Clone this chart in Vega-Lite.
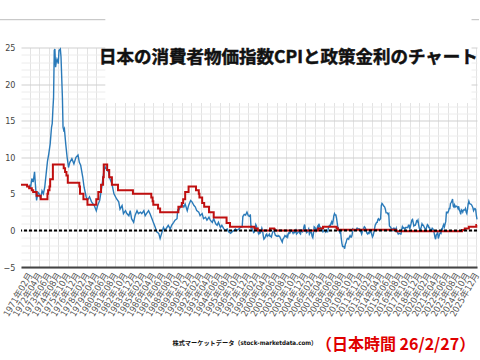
{
 "$schema": "https://vega.github.io/schema/vega-lite/v6.json",
 "width": 456,
 "height": 219.5,
 "autosize": {"type": "none"},
 "padding": {"left": 21, "top": 47.5, "right": 3, "bottom": 93},
 "background": "white",
 "config": {"view": {"stroke": null}},
 "datasets": {
  "cpi": [
   {"month":"1971-02","value":6.3},{"month":"1971-03","value":5.7},{"month":"1971-05","value":7.1},{"month":"1971-07","value":6.6},{"month":"1971-09","value":8.0},{"month":"1971-10","value":6.6},{"month":"1971-12","value":4.1},
   {"month":"1972-02","value":5.2},{"month":"1972-04","value":5.0},{"month":"1972-06","value":4.3},{"month":"1972-08","value":5.4},{"month":"1972-10","value":5.0},{"month":"1972-12","value":5.9},
   {"month":"1973-02","value":7.7},{"month":"1973-04","value":9.4},{"month":"1973-06","value":10.5},{"month":"1973-08","value":11.8},{"month":"1973-10","value":14.1},{"month":"1973-11","value":14.6},{"month":"1973-12","value":16.5},
   {"month":"1974-01","value":18.2},{"month":"1974-02","value":24.6},{"month":"1974-03","value":24.8},{"month":"1974-04","value":22.3},{"month":"1974-05","value":23.0},{"month":"1974-06","value":23.4},{"month":"1974-08","value":22.8},{"month":"1974-09","value":24.6},{"month":"1974-11","value":24.8},{"month":"1974-12","value":23.7},
   {"month":"1975-02","value":18.2},{"month":"1975-03","value":14.1},{"month":"1975-04","value":13.7},{"month":"1975-05","value":13.9},{"month":"1975-07","value":11.8},{"month":"1975-09","value":10.0},{"month":"1975-11","value":8.6},
   {"month":"1976-01","value":9.3},{"month":"1976-04","value":9.8},{"month":"1976-07","value":9.1},{"month":"1976-10","value":10.0},
   {"month":"1977-01","value":10.3},{"month":"1977-03","value":9.3},{"month":"1977-05","value":8.9},{"month":"1977-08","value":7.3},{"month":"1977-10","value":5.9},
   {"month":"1978-01","value":4.6},{"month":"1978-03","value":4.1},{"month":"1978-06","value":4.6},{"month":"1978-09","value":3.9},
   {"month":"1979-01","value":3.4},{"month":"1979-04","value":2.7},{"month":"1979-06","value":3.4},{"month":"1979-09","value":4.1},{"month":"1979-12","value":5.9},
   {"month":"1980-03","value":8.0},{"month":"1980-05","value":8.7},{"month":"1980-08","value":8.2},{"month":"1980-10","value":8.0},{"month":"1980-12","value":7.1},
   {"month":"1981-03","value":6.4},{"month":"1981-06","value":5.0},{"month":"1981-10","value":4.3},
   {"month":"1982-01","value":3.9},{"month":"1982-03","value":2.9},{"month":"1982-06","value":3.4},{"month":"1982-08","value":2.3},{"month":"1982-11","value":2.7},
   {"month":"1983-01","value":2.3},{"month":"1983-04","value":2.0},{"month":"1983-06","value":2.7},{"month":"1983-08","value":1.6},{"month":"1983-11","value":1.1},
   {"month":"1984-01","value":2.0},{"month":"1984-04","value":2.7},{"month":"1984-06","value":2.3},{"month":"1984-09","value":2.5},{"month":"1984-11","value":2.3},
   {"month":"1985-02","value":2.7},{"month":"1985-04","value":2.0},{"month":"1985-06","value":2.3},{"month":"1985-09","value":2.7},{"month":"1985-11","value":2.3},
   {"month":"1986-02","value":1.6},{"month":"1986-04","value":1.1},{"month":"1986-07","value":0.4},{"month":"1986-09","value":-0.2},{"month":"1986-12","value":-0.4},
   {"month":"1987-02","value":-1.1},{"month":"1987-05","value":-0.2},{"month":"1987-07","value":0.4},{"month":"1987-09","value":0.0},{"month":"1987-12","value":0.4},
   {"month":"1988-02","value":0.7},{"month":"1988-05","value":0.2},{"month":"1988-07","value":0.7},{"month":"1988-10","value":1.1},{"month":"1988-12","value":1.4},
   {"month":"1989-03","value":1.6},{"month":"1989-04","value":2.9},{"month":"1989-05","value":2.7},{"month":"1989-08","value":3.2},{"month":"1989-10","value":3.6},
   {"month":"1990-01","value":3.2},{"month":"1990-03","value":3.6},{"month":"1990-06","value":2.7},{"month":"1990-08","value":3.4},{"month":"1990-11","value":4.1},
   {"month":"1991-01","value":3.9},{"month":"1991-04","value":3.4},{"month":"1991-06","value":3.2},{"month":"1991-08","value":2.7},{"month":"1991-11","value":2.5},
   {"month":"1992-01","value":2.0},{"month":"1992-04","value":2.3},{"month":"1992-06","value":1.6},{"month":"1992-09","value":1.8},{"month":"1992-11","value":1.4},
   {"month":"1993-02","value":1.8},{"month":"1993-04","value":1.4},{"month":"1993-07","value":1.1},{"month":"1993-09","value":1.6},{"month":"1993-12","value":0.9},
   {"month":"1994-02","value":0.7},{"month":"1994-04","value":1.1},{"month":"1994-07","value":0.4},{"month":"1994-09","value":0.7},{"month":"1994-12","value":0.2},
   {"month":"1995-02","value":0.0},{"month":"1995-05","value":0.2},{"month":"1995-07","value":-0.2},{"month":"1995-10","value":-0.4},{"month":"1995-12","value":-0.2},
   {"month":"1996-03","value":0.0},{"month":"1996-05","value":0.2},{"month":"1996-07","value":0.0},{"month":"1996-10","value":0.2},{"month":"1996-12","value":0.4},
   {"month":"1997-03","value":0.5},{"month":"1997-04","value":1.9},{"month":"1997-06","value":2.2},{"month":"1997-08","value":2.1},{"month":"1997-10","value":2.5},{"month":"1997-12","value":2.0},
   {"month":"1998-02","value":1.9},{"month":"1998-03","value":2.2},{"month":"1998-04","value":0.4},{"month":"1998-05","value":0.5},{"month":"1998-06","value":0.1},{"month":"1998-07","value":-0.1},{"month":"1998-08","value":-0.3},{"month":"1998-09","value":-0.2},{"month":"1998-10","value":0.2},{"month":"1998-11","value":0.8},{"month":"1998-12","value":0.6},
   {"month":"1999-01","value":0.2},{"month":"1999-02","value":-0.1},{"month":"1999-03","value":-0.4},{"month":"1999-04","value":-0.1},{"month":"1999-05","value":-0.4},{"month":"1999-06","value":-0.3},{"month":"1999-07","value":-0.1},{"month":"1999-08","value":0.3},{"month":"1999-09","value":0.0},{"month":"1999-10","value":-0.7},{"month":"1999-11","value":-1.2},{"month":"1999-12","value":-1.1},
   {"month":"2000-01","value":-0.9},{"month":"2000-02","value":-0.6},{"month":"2000-03","value":-0.5},{"month":"2000-04","value":-0.8},{"month":"2000-05","value":-0.7},{"month":"2000-06","value":-0.7},{"month":"2000-07","value":-0.5},{"month":"2000-08","value":-0.8},{"month":"2000-09","value":-0.8},{"month":"2000-10","value":-0.9},{"month":"2000-11","value":-0.5},{"month":"2000-12","value":-0.2},
   {"month":"2001-01","value":-0.1},{"month":"2001-02","value":-0.1},{"month":"2001-03","value":-0.4},{"month":"2001-04","value":-0.7},{"month":"2001-05","value":-0.7},{"month":"2001-06","value":-0.8},{"month":"2001-07","value":-0.8},{"month":"2001-08","value":-0.7},{"month":"2001-09","value":-0.8},{"month":"2001-10","value":-0.8},{"month":"2001-11","value":-1.0},{"month":"2001-12","value":-1.2},
   {"month":"2002-01","value":-1.4},{"month":"2002-02","value":-1.6},{"month":"2002-03","value":-1.2},{"month":"2002-04","value":-1.1},{"month":"2002-05","value":-0.9},{"month":"2002-06","value":-0.7},{"month":"2002-07","value":-0.8},{"month":"2002-08","value":-0.9},{"month":"2002-09","value":-0.7},{"month":"2002-10","value":-0.9},{"month":"2002-11","value":-0.4},{"month":"2002-12","value":-0.3},
   {"month":"2003-01","value":-0.4},{"month":"2003-02","value":-0.2},{"month":"2003-03","value":-0.1},{"month":"2003-04","value":-0.1},{"month":"2003-05","value":-0.2},{"month":"2003-06","value":-0.4},{"month":"2003-07","value":-0.2},{"month":"2003-08","value":-0.3},{"month":"2003-09","value":-0.2},{"month":"2003-10","value":0.0},{"month":"2003-11","value":-0.5},{"month":"2003-12","value":-0.4},
   {"month":"2004-01","value":-0.3},{"month":"2004-02","value":0.0},{"month":"2004-03","value":-0.1},{"month":"2004-04","value":-0.4},{"month":"2004-05","value":-0.5},{"month":"2004-06","value":0.0},{"month":"2004-07","value":-0.1},{"month":"2004-08","value":-0.2},{"month":"2004-09","value":0.0},{"month":"2004-10","value":0.5},{"month":"2004-11","value":0.8},{"month":"2004-12","value":0.2},
   {"month":"2005-01","value":-0.1},{"month":"2005-02","value":-0.3},{"month":"2005-03","value":-0.2},{"month":"2005-04","value":0.0},{"month":"2005-05","value":0.2},{"month":"2005-06","value":-0.5},{"month":"2005-07","value":-0.3},{"month":"2005-08","value":-0.3},{"month":"2005-09","value":-0.3},{"month":"2005-10","value":-0.8},{"month":"2005-11","value":-1.0},{"month":"2005-12","value":-0.4},
   {"month":"2006-01","value":0.5},{"month":"2006-02","value":0.4},{"month":"2006-03","value":0.3},{"month":"2006-04","value":-0.1},{"month":"2006-05","value":0.1},{"month":"2006-06","value":0.5},{"month":"2006-07","value":0.3},{"month":"2006-08","value":0.9},{"month":"2006-09","value":0.6},{"month":"2006-10","value":0.4},{"month":"2006-11","value":0.3},{"month":"2006-12","value":0.3},
   {"month":"2007-01","value":0.0},{"month":"2007-02","value":-0.2},{"month":"2007-03","value":-0.1},{"month":"2007-04","value":0.0},{"month":"2007-05","value":0.0},{"month":"2007-06","value":-0.2},{"month":"2007-07","value":0.0},{"month":"2007-08","value":-0.2},{"month":"2007-09","value":-0.2},{"month":"2007-10","value":0.3},{"month":"2007-11","value":0.6},{"month":"2007-12","value":0.7},
   {"month":"2008-01","value":0.7},{"month":"2008-02","value":1.0},{"month":"2008-03","value":1.2},{"month":"2008-04","value":0.8},{"month":"2008-05","value":1.3},{"month":"2008-06","value":2.0},{"month":"2008-07","value":2.3},{"month":"2008-08","value":2.1},{"month":"2008-09","value":2.1},{"month":"2008-10","value":1.7},{"month":"2008-11","value":1.0},{"month":"2008-12","value":0.4},
   {"month":"2009-01","value":0.0},{"month":"2009-02","value":-0.1},{"month":"2009-03","value":-0.3},{"month":"2009-04","value":-0.1},{"month":"2009-05","value":-1.1},{"month":"2009-06","value":-1.8},{"month":"2009-07","value":-2.2},{"month":"2009-08","value":-2.2},{"month":"2009-09","value":-2.2},{"month":"2009-10","value":-2.5},{"month":"2009-11","value":-1.9},{"month":"2009-12","value":-1.7},
   {"month":"2010-01","value":-1.3},{"month":"2010-02","value":-1.1},{"month":"2010-03","value":-1.1},{"month":"2010-04","value":-1.2},{"month":"2010-05","value":-0.9},{"month":"2010-06","value":-0.7},{"month":"2010-07","value":-0.9},{"month":"2010-08","value":-0.9},{"month":"2010-09","value":-0.6},{"month":"2010-10","value":0.2},{"month":"2010-11","value":0.1},{"month":"2010-12","value":0.0},
   {"month":"2011-01","value":0.0},{"month":"2011-02","value":0.0},{"month":"2011-03","value":0.0},{"month":"2011-04","value":0.3},{"month":"2011-05","value":0.3},{"month":"2011-06","value":0.2},{"month":"2011-07","value":0.2},{"month":"2011-08","value":0.2},{"month":"2011-09","value":0.0},{"month":"2011-10","value":-0.2},{"month":"2011-11","value":-0.5},{"month":"2011-12","value":-0.2},
   {"month":"2012-01","value":0.1},{"month":"2012-02","value":0.3},{"month":"2012-03","value":0.5},{"month":"2012-04","value":0.4},{"month":"2012-05","value":0.2},{"month":"2012-06","value":-0.2},{"month":"2012-07","value":-0.4},{"month":"2012-08","value":-0.5},{"month":"2012-09","value":-0.3},{"month":"2012-10","value":-0.4},{"month":"2012-11","value":-0.2},{"month":"2012-12","value":-0.1},
   {"month":"2013-01","value":-0.3},{"month":"2013-02","value":-0.6},{"month":"2013-03","value":-0.9},{"month":"2013-04","value":-0.7},{"month":"2013-05","value":-0.3},{"month":"2013-06","value":0.2},{"month":"2013-07","value":0.7},{"month":"2013-08","value":0.9},{"month":"2013-09","value":1.1},{"month":"2013-10","value":1.1},{"month":"2013-11","value":1.5},{"month":"2013-12","value":1.6},
   {"month":"2014-01","value":1.4},{"month":"2014-02","value":1.5},{"month":"2014-03","value":1.6},{"month":"2014-04","value":3.4},{"month":"2014-05","value":3.7},{"month":"2014-06","value":3.6},{"month":"2014-07","value":3.4},{"month":"2014-08","value":3.3},{"month":"2014-09","value":3.2},{"month":"2014-10","value":2.9},{"month":"2014-11","value":2.4},{"month":"2014-12","value":2.4},
   {"month":"2015-01","value":2.4},{"month":"2015-02","value":2.2},{"month":"2015-03","value":2.3},{"month":"2015-04","value":0.6},{"month":"2015-05","value":0.5},{"month":"2015-06","value":0.4},{"month":"2015-07","value":0.2},{"month":"2015-08","value":0.2},{"month":"2015-09","value":0.0},{"month":"2015-10","value":0.3},{"month":"2015-11","value":0.3},{"month":"2015-12","value":0.2},
   {"month":"2016-01","value":0.0},{"month":"2016-02","value":0.3},{"month":"2016-03","value":-0.1},{"month":"2016-04","value":-0.3},{"month":"2016-05","value":-0.5},{"month":"2016-06","value":-0.4},{"month":"2016-07","value":-0.4},{"month":"2016-08","value":-0.5},{"month":"2016-09","value":-0.5},{"month":"2016-10","value":0.1},{"month":"2016-11","value":0.5},{"month":"2016-12","value":0.3},
   {"month":"2017-01","value":0.4},{"month":"2017-02","value":0.3},{"month":"2017-03","value":0.2},{"month":"2017-04","value":0.4},{"month":"2017-05","value":0.4},{"month":"2017-06","value":0.4},{"month":"2017-07","value":0.4},{"month":"2017-08","value":0.7},{"month":"2017-09","value":0.7},{"month":"2017-10","value":0.2},{"month":"2017-11","value":0.6},{"month":"2017-12","value":1.0},
   {"month":"2018-01","value":1.4},{"month":"2018-02","value":1.5},{"month":"2018-03","value":1.1},{"month":"2018-04","value":0.6},{"month":"2018-05","value":0.7},{"month":"2018-06","value":0.7},{"month":"2018-07","value":0.9},{"month":"2018-08","value":1.3},{"month":"2018-09","value":1.2},{"month":"2018-10","value":1.4},{"month":"2018-11","value":0.8},{"month":"2018-12","value":0.3},
   {"month":"2019-01","value":0.2},{"month":"2019-02","value":0.2},{"month":"2019-03","value":0.5},{"month":"2019-04","value":0.9},{"month":"2019-05","value":0.7},{"month":"2019-06","value":0.7},{"month":"2019-07","value":0.5},{"month":"2019-08","value":0.3},{"month":"2019-09","value":0.2},{"month":"2019-10","value":0.2},{"month":"2019-11","value":0.5},{"month":"2019-12","value":0.8},
   {"month":"2020-01","value":0.7},{"month":"2020-02","value":0.4},{"month":"2020-03","value":0.4},{"month":"2020-04","value":0.1},{"month":"2020-05","value":0.1},{"month":"2020-06","value":0.1},{"month":"2020-07","value":0.3},{"month":"2020-08","value":0.2},{"month":"2020-09","value":0.0},{"month":"2020-10","value":-0.4},{"month":"2020-11","value":-0.9},{"month":"2020-12","value":-1.2},
   {"month":"2021-01","value":-0.6},{"month":"2021-02","value":-0.5},{"month":"2021-03","value":-0.2},{"month":"2021-04","value":-1.1},{"month":"2021-05","value":-0.8},{"month":"2021-06","value":-0.5},{"month":"2021-07","value":-0.3},{"month":"2021-08","value":-0.4},{"month":"2021-09","value":0.2},{"month":"2021-10","value":0.1},{"month":"2021-11","value":0.6},{"month":"2021-12","value":0.8},
   {"month":"2022-01","value":0.5},{"month":"2022-02","value":0.9},{"month":"2022-03","value":1.2},{"month":"2022-04","value":2.5},{"month":"2022-05","value":2.5},{"month":"2022-06","value":2.4},{"month":"2022-07","value":2.6},{"month":"2022-08","value":3.0},{"month":"2022-09","value":3.0},{"month":"2022-10","value":3.7},{"month":"2022-11","value":3.8},{"month":"2022-12","value":4.0},
   {"month":"2023-01","value":4.3},{"month":"2023-02","value":3.3},{"month":"2023-03","value":3.2},{"month":"2023-04","value":3.5},{"month":"2023-05","value":3.2},{"month":"2023-06","value":3.3},{"month":"2023-07","value":3.3},{"month":"2023-08","value":3.2},{"month":"2023-09","value":3.0},{"month":"2023-10","value":3.3},{"month":"2023-11","value":2.8},{"month":"2023-12","value":2.6},
   {"month":"2024-01","value":2.2},{"month":"2024-02","value":2.8},{"month":"2024-03","value":2.7},{"month":"2024-04","value":2.5},{"month":"2024-05","value":2.8},{"month":"2024-06","value":2.8},{"month":"2024-07","value":2.8},{"month":"2024-08","value":3.0},{"month":"2024-09","value":2.5},{"month":"2024-10","value":2.3},{"month":"2024-11","value":2.9},{"month":"2024-12","value":3.6},
   {"month":"2025-01","value":4.0},{"month":"2025-02","value":3.7},{"month":"2025-03","value":3.6},{"month":"2025-04","value":3.6},{"month":"2025-05","value":3.5},{"month":"2025-06","value":3.3},{"month":"2025-07","value":3.1},{"month":"2025-08","value":2.7},{"month":"2025-09","value":2.9},{"month":"2025-10","value":3.0},{"month":"2025-11","value":2.9},{"month":"2025-12","value":2.1},
   {"month":"2026-01","value":1.5}
  ],
  "rate": [
   {"month":"1970-01","value":6.25},{"month":"1970-10","value":6.0},{"month":"1971-01","value":5.75},{"month":"1971-05","value":5.5},{"month":"1971-07","value":5.25},{"month":"1971-12","value":4.75},{"month":"1972-06","value":4.25},
   {"month":"1973-04","value":5.0},{"month":"1973-05","value":5.5},{"month":"1973-07","value":6.0},{"month":"1973-08","value":7.0},{"month":"1973-12","value":9.0},
   {"month":"1975-04","value":8.5},{"month":"1975-06","value":8.0},{"month":"1975-08","value":7.5},{"month":"1975-10","value":6.5},
   {"month":"1977-03","value":6.0},{"month":"1977-04","value":5.0},{"month":"1977-09","value":4.25},{"month":"1978-03","value":3.5},
   {"month":"1979-04","value":4.25},{"month":"1979-07","value":5.25},{"month":"1979-11","value":6.25},{"month":"1980-02","value":7.25},{"month":"1980-03","value":9.0},
   {"month":"1980-08","value":8.25},{"month":"1980-11","value":7.25},{"month":"1981-03","value":6.25},{"month":"1981-12","value":5.5},{"month":"1983-10","value":5.0},
   {"month":"1986-01","value":4.5},{"month":"1986-03","value":4.0},{"month":"1986-04","value":3.5},{"month":"1986-11","value":3.0},{"month":"1987-02","value":2.5},
   {"month":"1989-05","value":3.25},{"month":"1989-10","value":3.75},{"month":"1989-12","value":4.25},{"month":"1990-03","value":5.25},{"month":"1990-08","value":6.0},
   {"month":"1991-07","value":5.5},{"month":"1991-11","value":5.0},{"month":"1991-12","value":4.5},{"month":"1992-04","value":3.75},{"month":"1992-07","value":3.25},
   {"month":"1993-02","value":2.5},{"month":"1993-09","value":1.75},{"month":"1995-04","value":1.0},{"month":"1995-09","value":0.5},
   {"month":"1998-09","value":0.25},{"month":"1999-02","value":0.0},{"month":"2000-08","value":0.25},{"month":"2001-02","value":0.15},{"month":"2001-03","value":0.0},
   {"month":"2006-07","value":0.25},{"month":"2007-02","value":0.5},{"month":"2008-10","value":0.3},{"month":"2008-12","value":0.1},
   {"month":"2016-02","value":-0.1},{"month":"2024-03","value":0.05},{"month":"2024-07","value":0.25},{"month":"2025-01","value":0.5},{"month":"2025-12","value":0.75},{"month":"2026-01","value":0.75}
  ]
 },
 "layer": [
  {
   "data": {"name": "cpi"},
   "mark": {"type": "line", "color": "#2a7ab9", "strokeWidth": 1.4},
   "encoding": {
    "x": {
     "field": "month", "type": "temporal", "title": null,
     "scale": {"type": "utc", "domain": [{"year": 1970, "month": 1, "date": 1, "utc": true}, {"year": 2026, "month": 1, "date": 1, "utc": true}]},
     "axis": {
      "values": [
       {"year":1971,"month":2,"utc":true},{"year":1972,"month":4,"utc":true},{"year":1973,"month":6,"utc":true},{"year":1974,"month":8,"utc":true},{"year":1975,"month":10,"utc":true},{"year":1976,"month":12,"utc":true},
       {"year":1978,"month":2,"utc":true},{"year":1979,"month":4,"utc":true},{"year":1980,"month":6,"utc":true},{"year":1981,"month":8,"utc":true},{"year":1982,"month":10,"utc":true},{"year":1983,"month":12,"utc":true},
       {"year":1985,"month":2,"utc":true},{"year":1986,"month":4,"utc":true},{"year":1987,"month":6,"utc":true},{"year":1988,"month":8,"utc":true},{"year":1989,"month":10,"utc":true},{"year":1990,"month":12,"utc":true},
       {"year":1992,"month":2,"utc":true},{"year":1993,"month":4,"utc":true},{"year":1994,"month":6,"utc":true},{"year":1995,"month":8,"utc":true},{"year":1996,"month":10,"utc":true},{"year":1997,"month":12,"utc":true},
       {"year":1999,"month":2,"utc":true},{"year":2000,"month":4,"utc":true},{"year":2001,"month":6,"utc":true},{"year":2002,"month":8,"utc":true},{"year":2003,"month":10,"utc":true},{"year":2004,"month":12,"utc":true},
       {"year":2006,"month":2,"utc":true},{"year":2007,"month":4,"utc":true},{"year":2008,"month":6,"utc":true},{"year":2009,"month":8,"utc":true},{"year":2010,"month":10,"utc":true},{"year":2011,"month":12,"utc":true},
       {"year":2013,"month":2,"utc":true},{"year":2014,"month":4,"utc":true},{"year":2015,"month":6,"utc":true},{"year":2016,"month":8,"utc":true},{"year":2017,"month":10,"utc":true},{"year":2018,"month":12,"utc":true},
       {"year":2020,"month":2,"utc":true},{"year":2021,"month":4,"utc":true},{"year":2022,"month":6,"utc":true},{"year":2023,"month":8,"utc":true},{"year":2024,"month":10,"utc":true},{"year":2025,"month":12,"utc":true}
      ],
      "tickCount": 200,
      "labelExpr": "utcFormat(datum.value, '%Y年%m月')",
      "labelAngle": -60, "labelFont": "Liberation Sans Narrow, DejaVu Sans Condensed, Liberation Sans, Noto Sans CJK JP, sans-serif", "labelFontSize": 9, "labelColor": "#555",
      "labelPadding": 6, "labelOverlap": false, "labelFlush": false, "labelBound": false,
      "ticks": false, "grid": true, "gridColor": "#e3e3e3", "gridWidth": 1,
      "domain": true, "domainColor": "#444", "domainWidth": 2
     }
    },
    "y": {
     "field": "value", "type": "quantitative", "title": null,
     "scale": {"domain": [-5, 25], "nice": false, "zero": false},
     "axis": {
      "values": [-5,-4,-3,-2,-1,0,1,2,3,4,5,6,7,8,9,10,11,12,13,14,15,16,17,18,19,20,21,22,23,24,25],
      "tickCount": 200,
      "labelExpr": "datum.value % 5 === 0 ? format(datum.value, 'd') : ''",
      "gridColor": {"condition": {"test": "datum.value % 5 === 0", "value": "#cfcfcf"}, "value": "#ececec"},
      "domain": false, "ticks": false, "labelPadding": 6, "labelOverlap": false,
      "labelFont": "Liberation Sans Narrow, DejaVu Sans Condensed, Liberation Sans, sans-serif", "labelFontSize": 9, "labelColor": "#444"
     }
    }
   }
  },
  {
   "data": {"name": "rate"},
   "mark": {"type": "line", "color": "#c01010", "strokeWidth": 2, "interpolate": "step-after"},
   "encoding": {
    "x": {"field": "month", "type": "temporal", "title": null},
    "y": {"field": "value", "type": "quantitative", "title": null}
   }
  },
  {
   "data": {"values": [{}]},
   "mark": {"type": "rule", "color": "#bdbdbd", "strokeWidth": 1},
   "encoding": {
    "x": {"datum": {"year": 1966, "month": 12, "utc": true}, "type": "temporal"},
    "x2": {"datum": {"year": 2026, "month": 4, "utc": true}},
    "y": {"datum": 28.8, "type": "quantitative"}
   }
  },
  {
   "data": {"values": [{}]},
   "mark": {"type": "rect", "fill": "white"},
   "encoding": {
    "x": {"datum": {"year": 1980, "month": 5, "date": 10, "utc": true}, "type": "temporal"},
    "x2": {"datum": {"year": 2025, "month": 5, "utc": true}},
    "y": {"datum": 17.4, "type": "quantitative"},
    "y2": {"datum": 29.6}
   }
  },
  {
   "data": {"values": [{}]},
   "mark": {"type": "rule", "color": "black", "strokeWidth": 2, "strokeDash": [3, 2]},
   "encoding": {"y": {"datum": 0, "type": "quantitative"}}
  },
  {
   "data": {"values": [{}]},
   "mark": {"type": "text", "text": "日本の消費者物価指数CPIと政策金利のチャート", "font": "Noto Sans CJK JP", "fontWeight": "bold", "fontSize": 17.5, "color": "#111", "stroke": "#111", "strokeWidth": 0.5, "align": "center", "baseline": "middle"},
   "encoding": {
    "x": {"datum": {"year": 2002, "month": 11, "utc": true}, "type": "temporal"},
    "y": {"datum": 23.6, "type": "quantitative"}
   }
  },
  {
   "data": {"values": [{}]},
   "mark": {"type": "text", "text": "株式マーケットデータ（stock-marketdata.com）", "font": "Liberation Sans Narrow, DejaVu Sans Condensed, Noto Sans CJK JP", "fontWeight": "bold", "fontSize": 6.2, "color": "#111", "align": "center", "baseline": "middle"},
   "encoding": {
    "x": {"datum": {"year": 1997, "month": 7, "date": 1, "utc": true}, "type": "temporal"},
    "y": {"datum": -15.4, "type": "quantitative"}
   }
  },
  {
   "data": {"values": [{}]},
   "mark": {"type": "text", "text": "（日本時間 26/2/27）", "font": "Noto Sans CJK JP", "fontWeight": "bold", "fontSize": 16, "color": "#e00000", "align": "center", "baseline": "middle"},
   "encoding": {
    "x": {"datum": {"year": 2016, "month": 1, "utc": true}, "type": "temporal"},
    "y": {"datum": -15.6, "type": "quantitative"}
   }
  }
 ]
}
